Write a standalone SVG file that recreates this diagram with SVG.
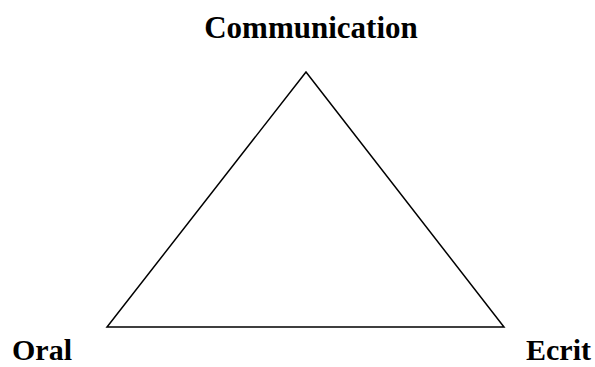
<svg xmlns="http://www.w3.org/2000/svg" width="595" height="367" viewBox="0 0 595 367">
<style>
.lbl{font-family:"Liberation Serif","Times New Roman",serif;font-weight:bold;font-size:30px;fill:#000}
.edge{fill:none;stroke:#000;stroke-width:1.5}
</style>
<rect width="595" height="367" fill="#fff"/>
<g id="connectors">
<polygon class="edge" points="306,72 107,327 504,327"/>
</g>
<g id="node-communication"><text class="lbl" x="311" y="38" text-anchor="middle" style="font-size:31px">Communication</text></g>
<g id="node-oral"><text class="lbl" x="12" y="360">Oral</text></g>
<g id="node-ecrit"><text class="lbl" x="526" y="360">Ecrit</text></g>
</svg>
